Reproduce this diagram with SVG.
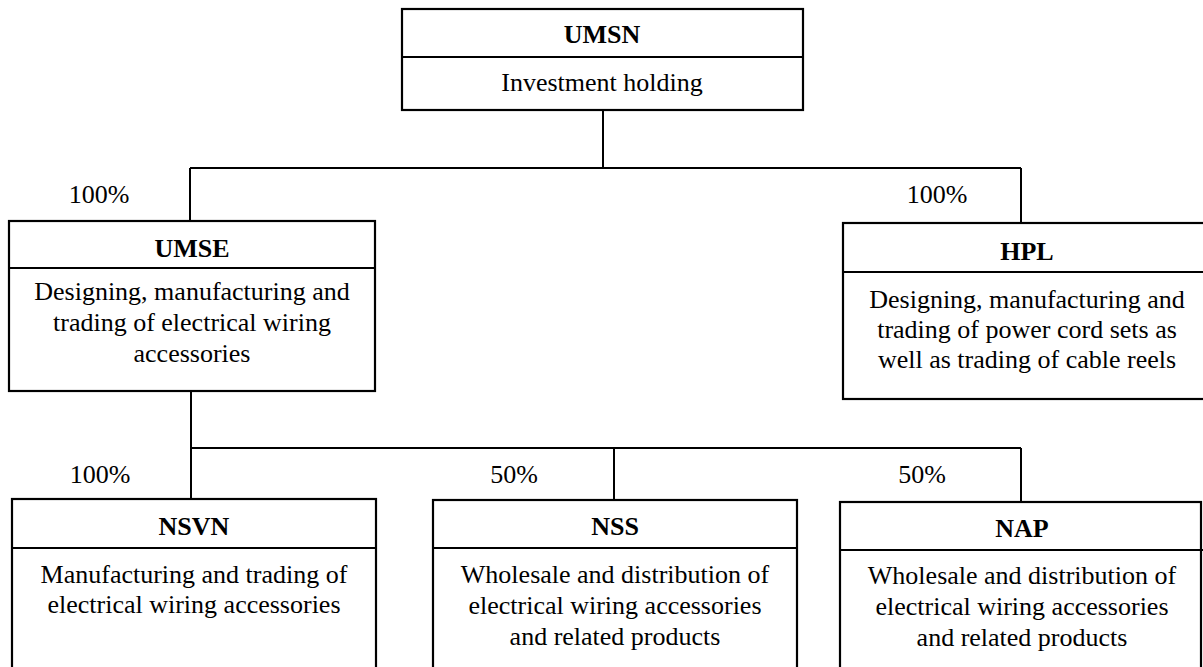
<svg xmlns="http://www.w3.org/2000/svg" width="1203" height="667" viewBox="0 0 1203 667">
<style>
.box{fill:#fff;stroke:#000;stroke-width:2.2}
.div{stroke:#000;stroke-width:2.2}
.t{font-family:"Liberation Serif","Times New Roman",serif;font-size:26px;fill:#000;text-anchor:middle}
.b{font-weight:bold}
.c{fill:none;stroke:#000;stroke-width:2}
</style>
<rect width="1203" height="667" fill="#fff"/>
<g id="connectors">
<path class="c" d="M603 110 V168 M190 168 H1021 M190 168 V221 M1021 168 V223"/>
<path class="c" d="M191 391 V499 M191 448 H1021 M614 448 V500 M1021 448 V502"/>
</g>
<g id="labels">
<text class="t" x="99" y="203">100%</text>
<text class="t" x="937" y="203">100%</text>
<text class="t" x="100" y="483">100%</text>
<text class="t" x="514" y="483">50%</text>
<text class="t" x="922" y="483">50%</text>
</g>
<g id="UMSN">
<rect class="box" x="402" y="9" width="401" height="101"/>
<line class="div" x1="402" y1="57" x2="803" y2="57"/>
<text class="t b" x="602" y="43">UMSN</text>
<text class="t" x="602" y="91">Investment holding</text>
</g>
<g id="UMSE">
<rect class="box" x="9" y="221" width="366" height="170"/>
<line class="div" x1="9" y1="268" x2="375" y2="268"/>
<text class="t b" x="192" y="257">UMSE</text>
<text class="t" x="192" y="300">Designing, manufacturing and</text>
<text class="t" x="192" y="331">trading of electrical wiring</text>
<text class="t" x="192" y="362">accessories</text>
</g>
<g id="HPL">
<rect class="box" x="843" y="223" width="370" height="176"/>
<line class="div" x1="843" y1="272" x2="1213" y2="272"/>
<text class="t b" x="1027" y="260">HPL</text>
<text class="t" x="1027" y="308">Designing, manufacturing and</text>
<text class="t" x="1027" y="338">trading of power cord sets as</text>
<text class="t" x="1027" y="368">well as trading of cable reels</text>
</g>
<g id="NSVN">
<rect class="box" x="12" y="499" width="364" height="190"/>
<line class="div" x1="12" y1="548" x2="376" y2="548"/>
<text class="t b" x="194" y="535">NSVN</text>
<text class="t" x="194" y="583">Manufacturing and trading of</text>
<text class="t" x="194" y="613">electrical wiring accessories</text>
</g>
<g id="NSS">
<rect class="box" x="433" y="500" width="364" height="190"/>
<line class="div" x1="433" y1="548" x2="797" y2="548"/>
<text class="t b" x="615" y="535">NSS</text>
<text class="t" x="615" y="583">Wholesale and distribution of</text>
<text class="t" x="615" y="614">electrical wiring accessories</text>
<text class="t" x="615" y="645">and related products</text>
</g>
<g id="NAP">
<rect class="box" x="840" y="502" width="361" height="190"/>
<line class="div" x1="840" y1="550" x2="1203" y2="550"/>
<text class="t b" x="1022" y="537">NAP</text>
<text class="t" x="1022" y="584">Wholesale and distribution of</text>
<text class="t" x="1022" y="615">electrical wiring accessories</text>
<text class="t" x="1022" y="646">and related products</text>
</g>
</svg>
